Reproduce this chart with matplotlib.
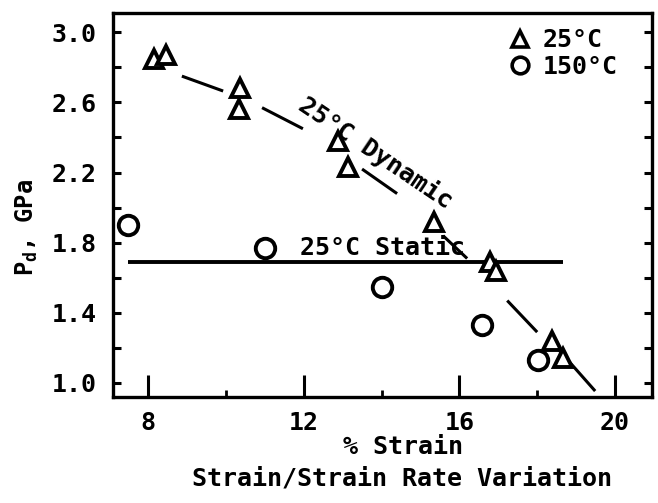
import numpy as np
import matplotlib
matplotlib.use("Agg")
import matplotlib.pyplot as plt
from matplotlib.lines import Line2D

# Data
tri_x = [8.15, 8.46, 10.37, 10.34, 12.88, 13.14, 15.35, 16.80, 16.95, 18.39, 18.67]
tri_y = [2.85, 2.87, 2.68, 2.56, 2.38, 2.23, 1.92, 1.69, 1.64, 1.24, 1.14]
circ_x = [7.49, 11.00, 14.02, 16.59, 18.03]
circ_y = [1.90, 1.77, 1.55, 1.33, 1.13]

# 25C dynamic trend, visible pieces only (nan = break)
dyn_x = [8.87, 9.93, np.nan, 10.93, 11.98, np.nan, 13.50, 14.40, np.nan,
         15.58, 16.20, np.nan, 17.23, 18.00, np.nan, 18.41, 19.49]
dyn_y = [2.75, 2.665, np.nan, 2.57, 2.45, np.nan, 2.22, 2.08, np.nan,
         1.84, 1.71, np.nan, 1.47, 1.29, np.nan, 1.225, 0.954]

# 25C static level
static_x = [7.49, 18.67]
static_y = [1.69, 1.69]

xticks = [8, 12, 16, 20]
yticks = [1.0, 1.4, 1.8, 2.2, 2.6, 3.0]

plt.rcParams['font.family'] = ['DejaVu Sans Mono']
plt.rcParams['font.weight'] = 'bold'
plt.rcParams['mathtext.fontset'] = 'custom'
plt.rcParams['mathtext.rm'] = 'DejaVu Sans Mono:bold'
plt.rcParams['mathtext.it'] = 'DejaVu Sans Mono:bold'

fig = plt.figure(figsize=(6.58, 5.03), dpi=100)
ax = fig.add_axes([113/658, 1 - 397/503, 539/658, 384/503])

ax.plot(dyn_x, dyn_y, color='black', lw=2.2, solid_capstyle='butt')
ax.plot(static_x, static_y, color='black', lw=2.8, solid_capstyle='butt')

ax.plot(tri_x, tri_y, ls='none', marker='^', ms=13, mfc='white', mec='black',
        mew=2.8, clip_on=False, label='25°C')
ax.plot(circ_x, circ_y, ls='none', marker='o', ms=14, mfc='white', mec='black',
        mew=2.8, clip_on=False, label='150°C')

ax.set_xlim(7.1, 20.95)
ax.set_ylim(0.92, 3.11)

ax.set_xticks(xticks)
ax.set_xticklabels([str(t) for t in xticks])
ax.set_xticks([10, 14, 18], minor=True)
ax.set_yticks(yticks)
ax.set_yticklabels(['%.1f' % t for t in yticks])
ax.set_yticks([1.2, 1.6, 2.0, 2.4, 2.8], minor=True)

ax.tick_params(axis='x', which='major', direction='in', length=16, width=2.2,
               labelsize=18, pad=10, top=False)
ax.tick_params(axis='x', which='minor', direction='in', length=5, width=2,
               top=False)
ax.tick_params(axis='y', which='both', direction='in', length=6, width=2.2,
               labelsize=18, pad=12, right=True)
for sp in ax.spines.values():
    sp.set_linewidth(2.4)

ax.text(11.9, 1.70, '25°C Static', fontsize=18, ha='left', va='bottom')
ax.text(13.86, 2.31, '25°C Dynamic', fontsize=18, ha='center', va='center',
        rotation=-34, rotation_mode='anchor')

handles = [Line2D([], [], ls='none', marker='^', ms=11, mfc='white', mec='black', mew=2.6),
           Line2D([], [], ls='none', marker='o', ms=12, mfc='white', mec='black', mew=2.6)]
ax.legend(handles, ['25°C', '150°C'], loc='upper left', bbox_to_anchor=(0.732, 0.96),
          frameon=False, handletextpad=0.4, handlelength=1.0, labelspacing=0.1,
          borderpad=0, borderaxespad=0, prop={'size': 18})

fig.text(403/658, 1 - 447/503, '% Strain', fontsize=18, ha='center', va='center')
fig.text(402/658, 1 - 478/503, 'Strain/Strain Rate Variation', fontsize=18,
         ha='center', va='center')
fig.text(27/658, 1 - 228/503, r'P$_{\mathrm{d}}$, GPa', fontsize=17, rotation=90,
         ha='center', va='center')

fig.savefig('out.png', dpi=100)
